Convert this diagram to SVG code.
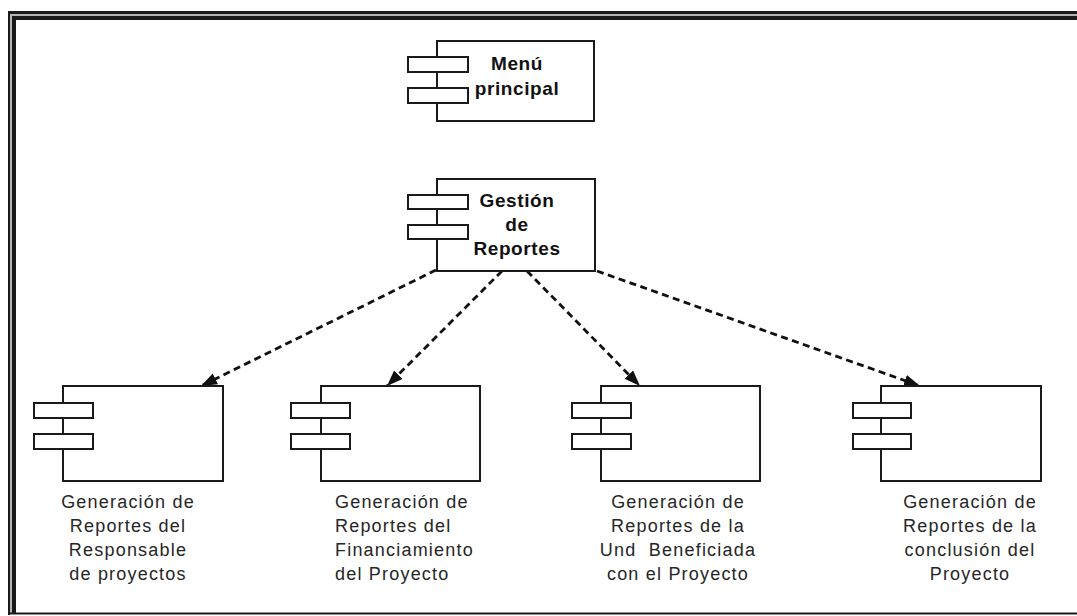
<svg xmlns="http://www.w3.org/2000/svg" width="1077" height="616" viewBox="0 0 1077 616">
  <style>
    .body { fill: #ffffff; stroke: #1a1a1a; stroke-width: 2; }
    .port { fill: #ffffff; stroke: #1a1a1a; stroke-width: 2; }
    .title { font-family: "Liberation Sans", Arial, sans-serif; font-weight: bold; font-size: 19px; letter-spacing: 0.6px; fill: #111111; text-anchor: middle; }
    .label { font-family: "Liberation Sans", Arial, sans-serif; font-size: 18px; letter-spacing: 1.2px; fill: #262626; }
    .mid { text-anchor: middle; }
    .dep { fill: none; stroke: #111111; stroke-width: 2.8; stroke-dasharray: 7 4.5; marker-end: url(#head); }
  </style>
  <defs>
    <marker id="head" markerUnits="userSpaceOnUse" markerWidth="17" markerHeight="13" refX="16" refY="6" orient="auto">
      <path d="M0,0 L16,6 L0,12 z" fill="#111111"/>
    </marker>
  </defs>

  <rect width="1077" height="616" fill="#ffffff"/>

  <!-- window frame: double rule on top and left, thin rule at the bottom -->
  <g id="frame">
    <rect x="8" y="11" width="1069" height="3" fill="#1a1a1a"/>
    <rect x="10" y="14" width="1067" height="2" fill="#b4b4b4"/>
    <rect x="12" y="16" width="1065" height="4" fill="#1a1a1a"/>
    <rect x="8" y="11" width="2" height="604" fill="#1a1a1a"/>
    <rect x="10" y="14" width="2" height="599" fill="#b4b4b4"/>
    <rect x="12" y="16" width="4" height="597" fill="#1a1a1a"/>
    <rect x="8" y="612.5" width="1069" height="2" fill="#1a1a1a"/>
  </g>

  <!-- dependency connectors -->
  <g id="connectors">
    <line class="dep" x1="436" y1="270" x2="201" y2="386"/>
    <line class="dep" x1="502" y1="271" x2="387" y2="386"/>
    <line class="dep" x1="527" y1="271" x2="640" y2="386"/>
    <line class="dep" x1="597" y1="271" x2="920" y2="386"/>
  </g>

  <g id="menu-principal">
    <rect class="body" x="437" y="41" width="157" height="80"/>
    <rect class="port" x="408" y="57" width="60" height="15"/>
    <rect class="port" x="408" y="88" width="60" height="15"/>
    <text class="title" x="517" y="70">Menú</text>
    <text class="title" x="517" y="95">principal</text>
  </g>

  <g id="gestion-reportes">
    <rect class="body" x="437" y="179" width="158" height="92"/>
    <rect class="port" x="408" y="195" width="60" height="14"/>
    <rect class="port" x="408" y="225" width="60" height="14"/>
    <text class="title" x="517" y="207">Gestión</text>
    <text class="title" x="517" y="231">de</text>
    <text class="title" x="517" y="255">Reportes</text>
  </g>

  <g id="reporte-responsable">
    <rect class="body" x="63" y="386" width="160" height="95"/>
    <rect class="port" x="34" y="403" width="59" height="15"/>
    <rect class="port" x="34" y="434" width="59" height="15"/>
    <text class="label mid" x="128" y="508">Generación de</text>
    <text class="label mid" x="128" y="532">Reportes del</text>
    <text class="label mid" x="128" y="556">Responsable</text>
    <text class="label mid" x="128" y="580">de proyectos</text>
  </g>

  <g id="reporte-financiamiento">
    <rect class="body" x="321" y="386" width="159" height="95"/>
    <rect class="port" x="291" y="403" width="59" height="15"/>
    <rect class="port" x="291" y="434" width="59" height="15"/>
    <text class="label" x="335" y="508">Generación de</text>
    <text class="label" x="335" y="532">Reportes del</text>
    <text class="label" x="335" y="556">Financiamiento</text>
    <text class="label" x="335" y="580">del Proyecto</text>
  </g>

  <g id="reporte-beneficiada">
    <rect class="body" x="601" y="386" width="159" height="95"/>
    <rect class="port" x="572" y="403" width="59" height="15"/>
    <rect class="port" x="572" y="434" width="59" height="15"/>
    <text class="label mid" x="678" y="508">Generación de</text>
    <text class="label mid" x="678" y="532">Reportes de la</text>
    <text class="label mid" x="678" y="556" xml:space="preserve">Und  Beneficiada</text>
    <text class="label mid" x="678" y="580">con el Proyecto</text>
  </g>

  <g id="reporte-conclusion">
    <rect class="body" x="881" y="386" width="160" height="95"/>
    <rect class="port" x="853" y="403" width="58" height="15"/>
    <rect class="port" x="853" y="434" width="58" height="15"/>
    <text class="label mid" x="970" y="508">Generación de</text>
    <text class="label mid" x="970" y="532">Reportes de la</text>
    <text class="label mid" x="970" y="556">conclusión del</text>
    <text class="label mid" x="970" y="580">Proyecto</text>
  </g>
</svg>
